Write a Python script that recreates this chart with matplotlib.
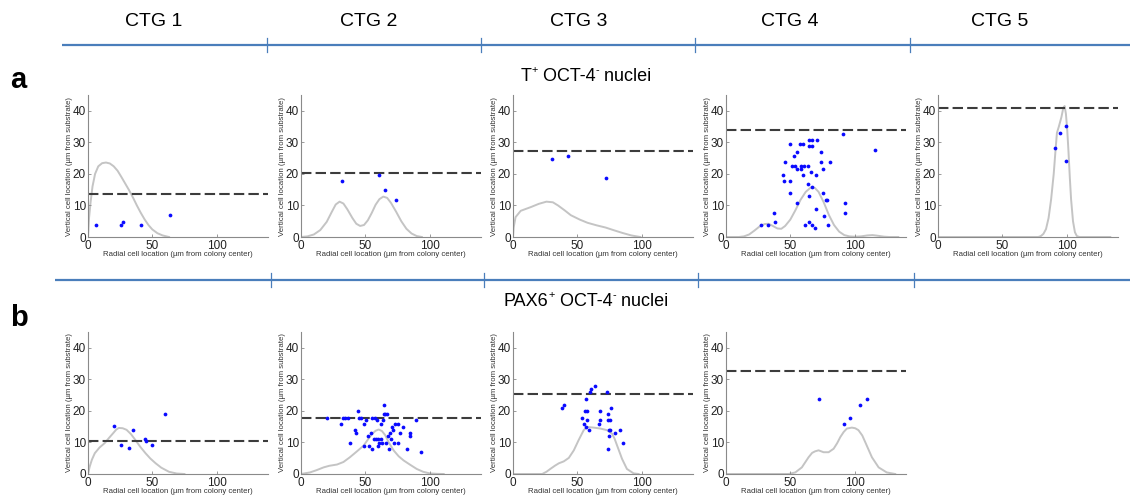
import matplotlib
matplotlib.use("Agg")
import matplotlib.pyplot as plt

plt.rcParams['font.family'] = ['Liberation Sans', 'DejaVu Sans']

# ---------------- data ----------------
groups = ["CTG 1", "CTG 2", "CTG 3", "CTG 4", "CTG 5"]
# row titles as (text, is_superscript) pieces
title_a = [("T", False), ("+", True), (" OCT-4", False), ("-", True), (" nuclei", False)]
title_b = [("PAX6", False), ("+", True), (" OCT-4", False), ("-", True), (" nuclei", False)]
row_letters = ["a", "b"]
xticks = [0, 50, 100]
yticks = [0, 10, 20, 30, 40]
xlabel = "Radial cell location (\u00b5m from colony center)"
ylabel = "Vertical cell location (\u00b5m from substrate)"

# Row a (T+ OCT-4-)
a1_x = [6.5, 26, 27.5, 41, 64]
a1_y = [3.8, 3.8, 4.8, 3.8, 6.9]
a1_thr = 13.7
a1_cx = [0, 0.8, 2, 3.5, 5.5, 8, 11, 14, 17, 20, 23, 26, 29, 32, 35, 38, 41, 44, 47, 50, 54, 58, 62, 63]
a1_cy = [0, 6, 11, 16, 20, 22.4, 23.4, 23.6, 23.3, 22.4, 21, 19, 16.9, 14.8, 12.5, 10, 7.7, 5.6, 3.8, 2.4, 1.2, 0.5, 0.1, 0]

a2_x = [32, 60.5, 65.5, 74]
a2_y = [17.8, 19.8, 14.8, 11.7]
a2_thr = 20.4
a2_cx = [0, 5, 10, 15, 20, 24, 27, 30, 33, 36, 40, 43, 46, 49, 52, 55, 58, 61, 64, 67, 70, 74, 78, 82, 86, 90, 94]
a2_cy = [0, 0.2, 0.8, 2.2, 4.8, 8, 10.3, 11.2, 10.6, 8.8, 6, 4.2, 3.5, 3.8, 5.3, 7.6, 10.2, 12, 12.8, 12.4, 10.8, 8, 5, 2.6, 1.1, 0.3, 0]

a3_x = [30.3, 42.9, 72.4]
a3_y = [24.7, 25.7, 18.6]
a3_thr = 27.1
a3_cx = [0, 0.5, 2, 6, 14, 20, 26, 31, 35, 40, 45, 52, 58, 65, 72, 78, 85, 92, 99]
a3_cy = [0, 3, 6.3, 8.3, 9.5, 10.5, 11.2, 11, 10, 8.5, 6.9, 5.5, 4.5, 3.7, 3, 2.2, 1.3, 0.5, 0]

a4_x = [27, 33, 37, 38.4, 44, 45, 45.5, 50, 51, 50, 49.5, 52.6, 54, 55, 55.5, 55.5, 57.6, 58, 58,
        59.5, 59.5, 60.5, 61.5, 64, 64, 64.7, 64.7, 64.2, 64.2, 67, 67, 66.3, 67, 67, 69, 70,
        70.8, 70, 74, 74, 75.5, 75.8, 76.6, 77.4, 78.4, 79, 80.5, 91, 92.4, 92.4, 115.8]
a4_y = [3.8, 3.8, 7.7, 4.8, 19.8, 17.8, 23.7, 29.6, 22.5, 17.8, 13.8, 25.7, 22.5, 21.7, 26.8, 10.8, 29.6, 22.5, 21.7,
        29.6, 19.8, 22.5, 3.8, 22.5, 16.7, 12.9, 4.8, 30.7, 28.7, 30.7, 28.7, 20.7, 15.8, 3.8, 2.9, 8.9,
        30.7, 19.8, 26.8, 23.7, 21.7, 13.8, 6.8, 11.7, 11.7, 3.8, 23.7, 32.7, 10.8, 7.7, 27.7]
a4_thr = 33.9
a4_cx = [0, 10, 14, 18, 22, 26, 30, 33, 36, 40, 43, 46, 50, 54, 58, 62, 66, 69, 72, 76, 80, 84, 88, 92, 96,
         100, 105, 110, 114, 118, 123, 127, 134]
a4_cy = [0, 0, 0.2, 0.8, 2, 3.3, 4.1, 4.2, 3.6, 2.7, 2.6, 3.5, 5.5, 8.5, 11.8, 14.3, 15.7, 15.6, 14.3, 11, 7, 3.8,
         1.7, 0.6, 0.2, 0.1, 0.2, 0.5, 0.6, 0.4, 0.1, 0, 0]

a5_x = [91, 94.6, 99.7, 99.7]
a5_y = [28.2, 33.1, 35.2, 24]
a5_thr = 41.0
a5_cx = [0, 78, 80, 82, 84, 86, 88, 90, 91.5, 92.5, 94, 96, 97.5, 98.5, 99.5, 100.5, 101.5, 102.5, 103.5, 105,
         106.5, 108, 110, 134]
a5_cy = [0, 0, 0.3, 1, 2.5, 6, 12, 20, 28, 33, 35, 38, 41, 41.5, 39, 34, 27, 19, 12, 5, 1.5, 0.3, 0, 0]

# Row b (PAX6+ OCT-4-)
b1_x = [20.3, 25.8, 31.6, 35.3, 44.2, 45, 49.5, 60]
b1_y = [15.1, 9.1, 8.2, 14.1, 11.1, 10.6, 9.1, 19.1]
b1_thr = 10.6
b1_cx = [0, 1.3, 3, 5.3, 9, 13, 16.5, 19.7, 22, 24, 27, 30, 33.5, 36.8, 40.5, 44.7, 48.5, 52.6, 57, 63, 69, 75]
b1_cy = [0, 2.3, 4.5, 6.6, 8.4, 9.8, 11.5, 13, 14.1, 14.6, 14.5, 14, 12.6, 10.8, 8.7, 6.6, 4.9, 3.4, 2, 0.7, 0.15, 0]

b2_x = [20.2, 30.8, 32.6, 34.5, 36.8, 38.3, 41.7, 43, 44, 45, 47, 48.7, 49.2, 50.8, 51.8, 53, 54.4, 55.4, 55.4,
        56.7, 57.3, 58.5, 59, 59.6, 60.1, 60.9, 61.9, 62.4, 63.2, 63.7, 64.2, 64.8, 65.5, 66.8, 66.3, 67.4,
        68.4, 69.4, 70.2, 71, 71.8, 72, 73, 75.6, 75.6, 77.2, 79.3, 82.4, 85, 85, 89.4, 93.3]
b2_y = [17.9, 16, 17.9, 17.9, 17.9, 9.9, 14.1, 13, 20, 17.9, 17.9, 16, 9, 17.1, 11.9, 9, 13, 8, 17.9,
        11, 17.9, 11, 17.1, 9, 11, 9.9, 11, 16, 9.9, 17.1, 19, 22, 19, 19, 9.9, 11.9,
        8, 13, 11, 14.9, 14, 9.9, 16, 16, 9.9, 13, 14.9, 8, 13, 11.9, 17.1, 6.9]
b2_thr = 17.8
b2_cx = [0, 7, 12, 17.6, 22, 28, 33, 38, 43, 48.7, 52, 55, 58, 60.4, 63, 65.5, 68, 72, 76, 79.8, 85, 90, 95, 100, 106, 111]
b2_cy = [0, 0.5, 1.2, 2.1, 2.6, 3, 3.8, 5.3, 7, 9, 10.9, 12.6, 13.7, 14.1, 13.6, 12.3, 10.2, 7.5, 5.6, 4.3, 2.9, 1.6, 0.7, 0.2, 0.05, 0]

b3_x = [38.2, 39.5, 53.7, 55, 55.8, 56.6, 56.8, 57.6, 57.6, 59.2, 60, 60.5, 64, 66.7, 68, 67.4, 72.9, 73.6,
        74, 74.4, 74.4, 74, 75.5, 75.7, 76.2, 79.6, 83, 85.5]
b3_y = [21, 22, 17.9, 15.9, 20, 23.9, 14.9, 17.1, 20, 14, 26, 27, 27.9, 16, 17.1, 20, 26, 19,
        17.1, 14, 11.9, 8, 14, 17.1, 21, 13, 14, 9.9]
b3_thr = 25.2
b3_cx = [0, 22.7, 26, 29, 32.5, 35.7, 39.5, 43.4, 47.3, 51, 55, 57.6, 62.8, 68, 73, 77, 79, 80.9, 84.8, 88.6, 93.8, 97.7]
b3_cy = [0, 0, 0.7, 1.6, 2.6, 3.4, 4, 5.1, 7.5, 10.7, 13.9, 14.9, 14.7, 14.4, 13.9, 12.8, 11.2, 9.1, 4.8, 1.6, 0.2, 0]

b4_x = [72, 92, 96.6, 103.9, 109.6]
b4_y = [23.9, 15.9, 17.9, 22, 23.9]
b4_thr = 32.5
b4_cx = [0, 48.7, 53.9, 59, 64.2, 67, 69.4, 72, 75.9, 79.8, 83.7, 86.5, 88.9, 91.5, 94, 97.9, 100.5, 103, 106,
         108.3, 111, 113.5, 118.7, 125, 131.6]
b4_cy = [0, 0, 0.5, 2.1, 5.3, 6.7, 7.2, 7.5, 6.9, 6.9, 8, 9.8, 11.7, 13.3, 14.4, 14.7, 14.5, 13.9, 12.2,
         10.1, 7.6, 5.3, 2.1, 0.5, 0]

row_a = [(a1_x, a1_y, a1_thr, a1_cx, a1_cy), (a2_x, a2_y, a2_thr, a2_cx, a2_cy),
         (a3_x, a3_y, a3_thr, a3_cx, a3_cy), (a4_x, a4_y, a4_thr, a4_cx, a4_cy),
         (a5_x, a5_y, a5_thr, a5_cx, a5_cy)]
row_b = [(b1_x, b1_y, b1_thr, b1_cx, b1_cy), (b2_x, b2_y, b2_thr, b2_cx, b2_cy),
         (b3_x, b3_y, b3_thr, b3_cx, b3_cy), (b4_x, b4_y, b4_thr, b4_cx, b4_cy)]

# ---------------- layout (pixels) ----------------
W, H = 1130, 496
fig = plt.figure(figsize=(W / 100, H / 100), dpi=100)
fig.patch.set_facecolor("white")

# overlay axes in pixel coordinates for the header graphics
ov = fig.add_axes([0, 0, 1, 1], zorder=0)
ov.set_xlim(0, W)
ov.set_ylim(H, 0)
ov.axis("off")

line_col = "#4a7ebb"
header_x = [154, 369, 579, 790, 1000]
for gx, g in zip(header_x, groups):
    ov.text(gx, 21, g, ha="center", va="center", fontsize=14, color="black")

top_line_y, top_ticks = 45, [267, 481, 695, 910]
ov.plot([62, W], [top_line_y, top_line_y], color=line_col, lw=1.6, solid_capstyle="butt")
for t in top_ticks:
    ov.plot([t, t], [top_line_y - 7, top_line_y + 7], color=line_col, lw=0.9)

mid_line_y, mid_ticks = 280, [271, 484, 698, 914]
ov.plot([55, W], [mid_line_y, mid_line_y], color=line_col, lw=1.6, solid_capstyle="butt")
for t in mid_ticks:
    ov.plot([t, t], [mid_line_y - 7, mid_line_y + 7], color=line_col, lw=0.9)

ov.text(10, 80, row_letters[0], ha="left", va="center", fontsize=21, fontweight="bold")
ov.text(10, 318, row_letters[1], ha="left", va="center", fontsize=21, fontweight="bold")

renderer = fig.canvas.get_renderer()


def draw_parts(xc, baseline, parts, fs):
    """Draw text pieces side by side (superscripts raised), centred on xc."""
    arts = []
    total = 0.0
    for s, sup in parts:
        size = fs * 0.6 if sup else fs
        t = ov.text(0, 0, s, fontsize=size, ha="left", va="baseline", color="black")
        w = t.get_window_extent(renderer).width
        arts.append((t, w, sup))
        total += w
    x = xc - total / 2
    for t, w, sup in arts:
        t.set_position((x, baseline - (fs * 0.45 * 100 / 72 if sup else 0)))
        x += w


draw_parts(586, 81, title_a, 13)
draw_parts(586, 306, title_b, 13)

ax_w, ax_h = 180, 142
rows = [(row_a, 237, [88, 301, 513, 726, 938]), (row_b, 474, [88, 301, 513, 726])]


def panel(left, bottom, data):
    x, y, thr, cx, cy = data
    ax = fig.add_axes([left / W, 1 - bottom / H, ax_w / W, ax_h / H], zorder=2)
    ax.patch.set_alpha(0)
    ax.plot(cx, cy, color="#c4c4c4", lw=1.4, zorder=1)
    ax.axhline(thr, color="#3c3c3c", lw=1.5, dashes=(5, 2), zorder=2)
    ax.plot(x, y, "o", ms=2.7, mew=0, color="#0a0aff", zorder=3, clip_on=False)
    ax.set_xlim(0, 140)
    ax.set_ylim(0, 45)
    ax.set_xticks(xticks)
    ax.set_yticks(yticks)
    for s in ["top", "right"]:
        ax.spines[s].set_visible(False)
    for s in ["left", "bottom"]:
        ax.spines[s].set_color("#8a8a8a")
        ax.spines[s].set_linewidth(0.8)
    ax.tick_params(direction="in", length=2, width=0.6, colors="#8a8a8a",
                   labelcolor="#222222", labelsize=8.5)
    ax.tick_params(axis="x", pad=2)
    ax.tick_params(axis="y", pad=1.5)
    ax.set_xlabel(xlabel, fontsize=5.6, color="#333333")
    ax.set_ylabel(ylabel, fontsize=5.6, color="#333333")
    ax.xaxis.set_label_coords(0.5, -14 / ax_h)
    ax.yaxis.set_label_coords(-15 / ax_w, 0.5)
    return ax


for data_row, bottom, lefts in rows:
    for left, d in zip(lefts, data_row):
        panel(left, bottom, d)

fig.savefig("out.png", dpi=100, facecolor="white")
